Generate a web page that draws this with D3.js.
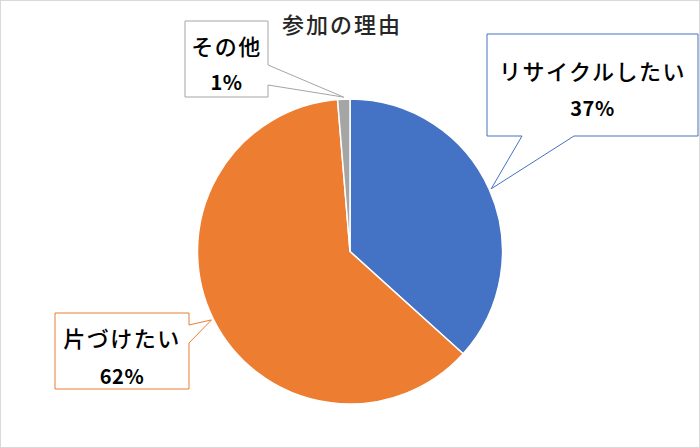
<!DOCTYPE html>
<html>
<head>
  <meta charset="utf-8">
  <script src="https://cdnjs.cloudflare.com/ajax/libs/d3/7.8.5/d3.min.js"></script>
  <title>参加の理由</title>
  <style>
    body { margin:0; background:#fff; }
    text { font-family: "Noto Sans CJK JP", "Noto Sans", sans-serif; }
  </style>
</head>
<body>
<script>
var categorias = ["リサイクルしたい", "片づけたい", "その他"];
var valores = [36.7, 62.0, 1.3];
var colores = ["#4472C4", "#ED7D31", "#A5A5A5"];

var w = 700, h = 448;
var cx = 350, cy = 251.5, r = 152.5;

// callout boxes: x, y, width, height, pointer side and base
var globos = [
  {x:487, y:34, w:211, h:102, lado:"abajo", b0:522, b1:574, ty:70, py:107},
  {x:55, y:313, w:134, h:76, lado:"derecha", b0:325, b1:343, ty:337, py:375},
  {x:185, y:21, w:83, h:76, lado:"derecha", b0:65, b1:85, ty:45, py:81}
];

var svg = d3.select("body").append("svg")
  .attr("width", w)
  .attr("height", h);

svg.append("rect")
  .attr("x", 0.5).attr("y", 0.5)
  .attr("width", w - 1).attr("height", h - 1)
  .attr("fill", "white")
  .attr("stroke", "#d9d9d9");

svg.append("text")
  .attr("x", 342).attr("y", 23)
  .attr("text-anchor", "middle")
  .attr("dominant-baseline", "central")
  .attr("font-size", 22)
  .attr("font-weight", 500)
  .attr("letter-spacing", 2)
  .attr("fill", "#262626")
  .text("参加の理由");

var total = d3.sum(valores);
var pct = d3.format(".0%");

var pie = d3.pie().sort(null).value(function(d) { return d; });
var arcos = pie(valores);
var arco = d3.arc().innerRadius(0).outerRadius(r);
var punta = d3.arc().innerRadius(r + 2).outerRadius(r + 2);

var g = svg.append("g").attr("transform", "translate(" + cx + "," + cy + ")");

g.selectAll("path").data(arcos).enter().append("path")
  .attr("d", arco)
  .attr("fill", function(d, i) { return colores[i]; })
  .attr("stroke", "white")
  .attr("stroke-width", 1.5)
  .attr("stroke-linejoin", "round");

function globo(b, tip) {
  var x0 = b.x, y0 = b.y, x1 = b.x + b.w, y1 = b.y + b.h;
  var p;
  if (b.lado == "abajo") {
    p = [[x0,y0],[x1,y0],[x1,y1],[b.b1,y1],tip,[b.b0,y1],[x0,y1]];
  } else {
    p = [[x0,y0],[x1,y0],[x1,b.b0],tip,[x1,b.b1],[x1,y1],[x0,y1]];
  }
  return "M" + p.join("L") + "Z";
}

var et = svg.selectAll("g.globo").data(arcos).enter().append("g").attr("class", "globo");

et.append("path")
  .attr("d", function(d, i) {
    var c = punta.centroid(d);
    return globo(globos[i], [cx + c[0], cy + c[1]]);
  })
  .attr("fill", "white")
  .attr("stroke", function(d, i) { return colores[i]; })
  .attr("stroke-width", 1);

et.append("text")
  .attr("x", function(d, i) { return globos[i].x + globos[i].w / 2; })
  .attr("y", function(d, i) { return globos[i].ty; })
  .attr("text-anchor", "middle")
  .attr("dominant-baseline", "central")
  .attr("font-size", 22)
  .attr("font-weight", 500)
  .attr("letter-spacing", 1.5)
  .attr("fill", "black")
  .text(function(d, i) { return categorias[i]; });

et.append("text")
  .attr("x", function(d, i) { return globos[i].x + globos[i].w / 2; })
  .attr("y", function(d, i) { return globos[i].py; })
  .attr("text-anchor", "middle")
  .attr("dominant-baseline", "central")
  .attr("font-size", 20)
  .attr("font-weight", "bold")
  .attr("letter-spacing", 0.5)
  .attr("fill", "black")
  .text(function(d) { return pct(d.value / total); });
</script>
</body>
</html>
